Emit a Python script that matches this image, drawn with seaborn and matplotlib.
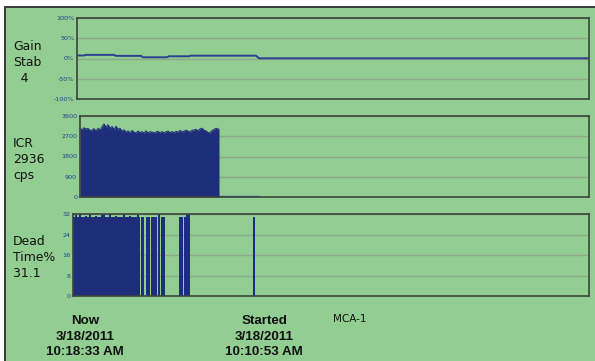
import matplotlib
matplotlib.use("Agg")
import matplotlib.pyplot as plt
import seaborn as sns
import numpy as np
import pandas as pd
from matplotlib.patches import Rectangle

# ---- data -------------------------------------------------------------
# Gain stabilisation (%) against sample index
gain_sample = [0, 7, 9, 37, 39, 64, 66, 90, 92, 112, 114, 179, 182, 512]
gain_pct = [7.5, 7.5, 9, 9, 6.5, 6.5, 3, 3, 5.5, 5.5, 7, 7, 0.5, 0.5]

# Input count rate (cps), one reading every 2 samples while counting
icr_cps = [3060, 2990, 3080, 3020, 3050, 2960, 2980, 3040, 2940, 3050,
           2990, 3120, 3250, 3100, 3220, 3060, 3140, 3000, 3150, 3010,
           3060, 2930, 2990, 2880, 2940, 2850, 2960, 2880, 2850, 2930,
           2860, 2910, 2840, 2940, 2850, 2900, 2890, 2850, 2890, 2920,
           2850, 2910, 2850, 2900, 2930, 2860, 2910, 2860, 2920, 2880,
           2960, 2890, 2930, 2970, 2930, 2890, 2970, 2980, 3010, 2940,
           3030, 3060, 2970, 2940, 2870, 2850, 2960, 3000, 3060, 3020]
icr_tail_sample = [139, 179]
icr_tail_cps = [40, 40]

# Dead time (%) : continuous block, then isolated readings
dead_block = [31, 31.5, 31, 32, 31, 31, 31.3, 31, 32, 31,
              31, 31.2, 31, 31, 31.5, 32, 31, 31, 32, 31,
              31, 31.3, 31, 31, 31, 32, 31, 31, 31.2, 31,
              31, 31, 31.5, 31]
dead_spike_sample = [66.3, 68.7, 70.3, 73.7, 76.3, 78.7, 81, 83, 86.3, 88.7, 91,
                     107.3, 109, 112.3, 114.3, 116, 181.3]
dead_spike_pct = [31, 31, 31, 30.8, 31, 31, 31, 31, 32, 31, 31,
                  31, 31, 31, 31.5, 32, 31]

gain_ticks = [-100, -50, 0, 50, 100]
gain_ticklabels = ["-100%", "-50%", "0%", "50%", "100%"]
icr_ticks = [0, 900, 1800, 2700, 3600]
dead_ticks = [0, 8, 16, 24, 32]

# ---- style ------------------------------------------------------------
sns.set_theme(style="white")
plt.rcParams["font.family"] = ["DejaVu Sans"]

GREEN = "#92cd92"
NAVY = "#1f2e7a"
TICKBLUE = "#24418f"
GRID = "#8ea88c"

W, H = 595, 361
fig = plt.figure(figsize=(W / 100, H / 100), dpi=100)
fig.patch.set_facecolor("white")

# green panel with dark border, kept behind the axes
panel = Rectangle((5 / W, -0.01), 1 - 5 / W + 0.01, 1 - 7 / H + 0.01,
                  transform=fig.transFigure, facecolor=GREEN,
                  edgecolor="#2a2f2a", linewidth=1.3, zorder=-5)
fig.patches.append(panel)


def make_axes(left, top, right, bottom):
    ax = fig.add_axes([left / W, 1 - bottom / H, (right - left) / W, (bottom - top) / H])
    ax.set_facecolor(GREEN)
    for s in ax.spines.values():
        s.set_color("#3b463b")
        s.set_linewidth(1.2)
    ax.tick_params(axis="y", labelsize=4.6, labelcolor=TICKBLUE, length=0, pad=2)
    ax.set_xticks([])
    ax.grid(axis="y", color=GRID, linewidth=1.0)
    ax.set_axisbelow(True)
    return ax


# Gain stab panel
ax1 = make_axes(77, 18, 589, 99)
gdf = pd.DataFrame({"sample": gain_sample, "gain": gain_pct})
sns.lineplot(data=gdf, x="sample", y="gain", ax=ax1, color="#2b4090",
             linewidth=1.4, estimator=None, sort=False)
ax1.set_xlim(0, 512)
ax1.set_ylim(-100, 100)
ax1.set_yticks(gain_ticks)
ax1.set_yticklabels(gain_ticklabels)
ax1.set_xlabel("")
ax1.set_ylabel("")

# ICR panel
ax2 = make_axes(80, 116, 589, 197)
icr_sample = list(range(0, 2 * len(icr_cps), 2))
idf = pd.DataFrame({"sample": icr_sample + [139], "cps": icr_cps + [icr_cps[-1]]})
ax2.fill_between(idf["sample"], 0, idf["cps"], color=NAVY, linewidth=0)
sns.lineplot(data=idf, x="sample", y="cps", ax=ax2, color=NAVY, linewidth=0.7,
             estimator=None)
tdf = pd.DataFrame({"sample": icr_tail_sample, "cps": icr_tail_cps})
sns.lineplot(data=tdf, x="sample", y="cps", ax=ax2, color="#3a5aa8",
             linewidth=1.0, estimator=None)
ax2.set_xlim(0, 509)
ax2.set_ylim(0, 3600)
ax2.set_yticks(icr_ticks)
ax2.set_yticklabels([str(t) for t in icr_ticks])
ax2.set_xlabel("")
ax2.set_ylabel("")

# Dead time panel
ax3 = make_axes(73, 214, 589, 296)
block_sample = list(range(0, 2 * len(dead_block), 2))
ddf = pd.DataFrame({"sample": block_sample + [66], "dead": dead_block + [dead_block[-1]]})
ax3.fill_between(ddf["sample"], 0, ddf["dead"], step="post", color=NAVY, linewidth=0)
ax3.bar(dead_spike_sample, dead_spike_pct, width=1.8, color=NAVY, linewidth=0,
        align="center")
ax3.set_xlim(0, 516)
ax3.set_ylim(0, 32)
ax3.set_yticks(dead_ticks)
ax3.set_yticklabels([str(t) for t in dead_ticks])

# side captions
side_kw = dict(fontsize=8.9, color="#111111", va="top", ha="left", linespacing=1.3)
fig.text(13 / W, 1 - 40 / H, "Gain\nStab\n  4", **side_kw)
fig.text(13 / W, 1 - 137 / H, "ICR\n2936\ncps", **side_kw)
fig.text(13 / W, 1 - 235 / H, "Dead\nTime%\n31.1", **side_kw)

# footer
foot_kw = dict(fontsize=9.6, fontweight="bold", color="#111111", ha="center",
               va="top", linespacing=1.4, family=["Liberation Sans", "DejaVu Sans"])
fig.text(85 / W, 1 - 315 / H, "Now\n3/18/2011\n10:18:33 AM", **foot_kw)
fig.text(264 / W, 1 - 315 / H, "Started\n3/18/2011\n10:10:53 AM", **foot_kw)
fig.text(333 / W, 1 - 314 / H, "MCA-1", fontsize=7.5, color="#111111",
         ha="left", va="top")

fig.savefig("out.png", dpi=100, facecolor=fig.get_facecolor())
